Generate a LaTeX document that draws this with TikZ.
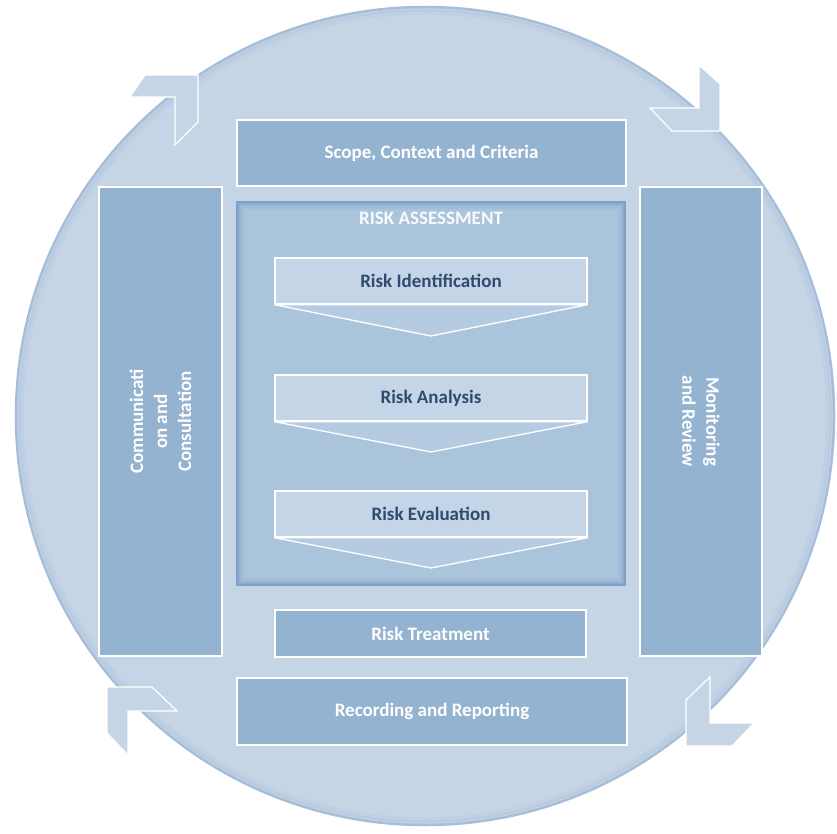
\documentclass[tikz,border=0pt]{standalone}
\usepackage{fontspec}
\setmainfont{Carlito}
\begin{document}
\begin{tikzpicture}[x=1pt,y=-1pt,
  every node/.style={font=\bfseries\fontsize{19}{24}\selectfont, inner sep=0pt, align=center},
  darkbox/.style={draw=white, line width=1.3pt, fill=darkfill, text=white},
  lightbox/.style={draw=white, line width=1.3pt, fill=lightfill, text=darktext},
  tri/.style={draw=white, line width=1.3pt, fill=trifill},
  cornerarrow/.style={draw=white, line width=1.2pt, fill=circfill}]
\definecolor{circfill}{HTML}{C6D5E6}
\definecolor{circrim}{HTML}{A6BEDA}
\definecolor{darkfill}{HTML}{94B3D1}
\definecolor{assessfill}{HTML}{AAC4DC}
\definecolor{assessrim}{HTML}{7EA1C7}
\definecolor{lightfill}{HTML}{C4D5E7}
\definecolor{trifill}{HTML}{B5CBE1}
\definecolor{darktext}{HTML}{2F4B6D}
\useasboundingbox (0,0) rectangle (837,834);
\fill[white] (0,0) rectangle (837,834);
% big circle
\node[circle, minimum size=818pt, fill=circfill, draw=circrim, line width=2.5pt] (circ) at (425,416) {};
\node[circle, minimum size=811pt, draw=circrim!45!circfill, line width=2.5pt] (circin) at (425,416) {};
\node[circle, minimum size=805pt, draw=circrim!20!circfill, line width=2.5pt] (circin2) at (425,416) {};
% corner arrows
\draw[cornerarrow] (130,97) -- (145,75) -- (198,75) -- (198,122) -- (175,145) -- (175,97) -- cycle;
\draw[cornerarrow] (699,65) -- (720,84) -- (720,131) -- (672,131) -- (650,108) -- (699,108) -- cycle;
\draw[cornerarrow] (107,687) -- (152,687) -- (177,711) -- (128,711) -- (128,755) -- (107,733) -- cycle;
\draw[cornerarrow] (710,677) -- (710,723) -- (754,723) -- (732,746) -- (686,746) -- (686,700) -- cycle;
% outer boxes
\node[darkbox, minimum width=389pt, minimum height=66pt] (scope) at (431.5,153) {Scope, Context and Criteria};
\node[darkbox, minimum width=123pt, minimum height=469pt] (comm) at (160.5,421.5) {};
\node[text=white, rotate=90] (commtext) at (comm.center) {Communicati\\on and\\Consultation};
\node[darkbox, minimum width=122pt, minimum height=469pt] (mon) at (701,421.5) {};
\node[text=white, rotate=-90] (montext) at (mon.center) {Monitoring\\and Review};
% risk assessment with soft inner glow
\node[fill=assessfill, draw=assessrim, line width=1.5pt, minimum width=388pt, minimum height=383pt] (assess) at (431,393.5) {};
\foreach \i/\p in {1/70,2/52,3/38,4/26,5/16,6/8} {
  \node[draw=assessrim!\p!assessfill, line width=1.2pt, minimum width=388pt-2.4*\i pt, minimum height=383pt-2.4*\i pt] (glow\i) at (431,393.5) {};
}
\node[text=white!92!assessfill] (assesstitle) at (431,218) {RISK ASSESSMENT};
% steps
\node[lightbox, minimum width=312pt, minimum height=46pt] (riskid) at (431,281) {Risk Identification};
\coordinate (tipid) at (431,336);
\draw[tri] (riskid.south west) -- (tipid) -- (riskid.south east) -- cycle;
\node[lightbox, minimum width=312pt, minimum height=46pt] (riskan) at (431,398) {Risk Analysis};
\coordinate (tipan) at (431,452);
\draw[tri] (riskan.south west) -- (tipan) -- (riskan.south east) -- cycle;
\node[lightbox, minimum width=312pt, minimum height=46pt] (riskev) at (431,514) {Risk Evaluation};
\coordinate (tipev) at (431,568);
\draw[tri] (riskev.south west) -- (tipev) -- (riskev.south east) -- cycle;
% bottom boxes
\node[darkbox, minimum width=311pt, minimum height=47pt] (treat) at (430.5,633.5) {Risk Treatment};
\node[darkbox, minimum width=390pt, minimum height=67pt] (record) at (432,711.5) {Recording and Reporting};
\end{tikzpicture}
\end{document}
